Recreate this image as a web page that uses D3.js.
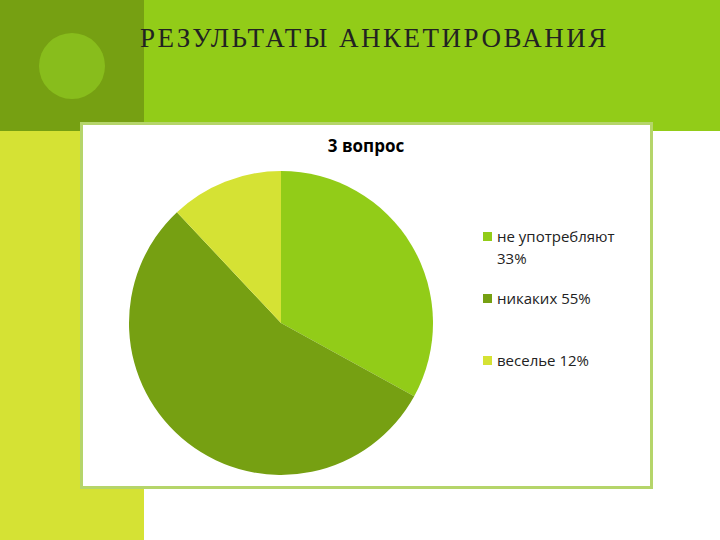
<!DOCTYPE html>
<html lang="ru">
<head>
<meta charset="utf-8">
<script src="https://d3js.org/d3.v7.min.js"></script>
<style>
 body { margin:0; background:#fff; }
 svg text { font-family: "Open Sans", "Liberation Sans", sans-serif; }
</style>
</head>
<body>
<script>
var labels = ["не употребляют 33%", "никаких 55%", "веселье 12%"];
var values = [33, 55, 12];
var colors = ["#92cc18", "#76a012", "#d5e234"];

var W = 720, H = 540;
var svg = d3.select("body").append("svg").attr("width", W).attr("height", H);

// slide background
svg.append("rect").attr("x", 0).attr("y", 0).attr("width", W).attr("height", 131).attr("fill", "#92cc18");
svg.append("rect").attr("x", 0).attr("y", 0).attr("width", 144).attr("height", 131).attr("fill", "#76a012");
svg.append("rect").attr("x", 0).attr("y", 131).attr("width", 144).attr("height", H - 131).attr("fill", "#d5e234");
svg.append("circle").attr("cx", 72).attr("cy", 66).attr("r", 33).attr("fill", "#88bd1c");

svg.append("text").attr("x", 140).attr("y", 47)
  .style("font-family", "'Liberation Serif', serif").style("font-size", "27px")
  .style("letter-spacing", "2.5px").attr("fill", "#222")
  .text("РЕЗУЛЬТАТЫ АНКЕТИРОВАНИЯ");

// chart box
svg.append("rect").attr("x", 81.5).attr("y", 123.5).attr("width", 570).attr("height", 364)
  .attr("fill", "#fff").attr("stroke", "#b5d56a").attr("stroke-width", 3);

svg.append("text").attr("x", 366).attr("y", 152).attr("text-anchor", "middle")
  .style("font-size", "17px").style("font-weight", "bold").text("3 вопрос");

var pie = d3.pie().sort(null)(values);
var arc = d3.arc().innerRadius(0).outerRadius(152);
svg.append("g").attr("transform", "translate(281,323)")
  .selectAll("path").data(pie).enter().append("path")
  .attr("d", arc).attr("fill", function(d, i) { return colors[i]; });

var ly = d3.scaleOrdinal().domain(labels).range([242, 304, 366]);
var lg = svg.append("g").selectAll("g").data(labels).enter().append("g")
  .attr("transform", function(d) { return "translate(483," + ly(d) + ")"; });
lg.append("rect").attr("x", 0).attr("y", -10).attr("width", 9).attr("height", 9)
  .attr("fill", function(d, i) { return colors[i]; });
lg.append("text").attr("x", 14).attr("y", 0).style("font-size", "15px").attr("fill", "#222")
  .each(function(d) {
    var t = d3.select(this);
    if (d.indexOf("употребляют") >= 0) {
      t.append("tspan").attr("x", 14).text("не употребляют");
      t.append("tspan").attr("x", 14).attr("dy", 22).text("33%");
    } else t.text(d);
  });
</script>
</body>
</html>
